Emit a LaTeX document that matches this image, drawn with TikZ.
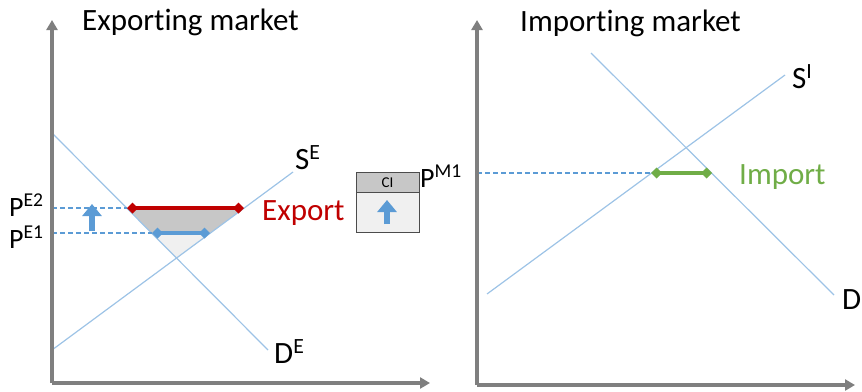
\documentclass[tikz,border=0pt]{standalone}
\usepackage{fontspec}
\setmainfont{Carlito}[Ligatures=NoCommon]
\usetikzlibrary{arrows.meta}

\definecolor{axisgray}{RGB}{127,127,127}
\definecolor{curveblue}{RGB}{157,195,230}
\definecolor{priceblue}{RGB}{91,155,213}
\definecolor{exportred}{RGB}{192,0,0}
\definecolor{importgreen}{RGB}{112,173,71}

\tikzset{
  axis/.style={draw=axisgray,line width=3.5pt,-{Triangle[width=11pt,length=10pt]}},
  curve/.style={draw=curveblue,line width=1.2pt},
  pline/.style={draw=priceblue,line width=1.3pt,dash pattern=on 5pt off 3pt},
  trade/.style={line width=3.6pt,{Diamond[width=11pt,length=11pt]}-{Diamond[width=11pt,length=11pt]}},
  uparrow/.style={draw=priceblue,line width=6pt,-{Triangle[width=19pt,length=12pt]}},
  lbl/.style={font=\fontsize{31}{33}\selectfont,inner sep=0pt,anchor=base west},
  plbl/.style={font=\fontsize{28}{30}\selectfont,inner sep=0pt,anchor=base west}
}

\begin{document}
\begin{tikzpicture}[x=1pt,y=-1pt]
\useasboundingbox (0,0) rectangle (862,391);

% exporting market
\coordinate (eo) at (52,383);
\coordinate (ey) at (52,20);
\coordinate (ex) at (430,383);
\coordinate (ed1) at (52,133);
\coordinate (ed2) at (268,350);
\coordinate (es1) at (52,350);
\coordinate (es2) at (293,172);
\coordinate (ea) at (127,208);
\coordinate (eb) at (244,208);
\coordinate (ec) at (152,233);
\coordinate (ed) at (210,233);
\coordinate (ee) at (177,258);
\coordinate (ep2) at (52,208);
\coordinate (ep1) at (52,233);
\coordinate (ua1) at (92,231);
\coordinate (ua2) at (92,204);

\fill[black!22] (ea) -- (eb) -- (ed) -- (ec) -- cycle;
\fill[black!6] (ec) -- (ed) -- (ee) -- cycle;

\path[curve] (ed1) edge (ed2);
\path[curve] (es1) edge (es2);
\path[pline] (ep2) edge (ea);
\path[pline] (ep1) edge (ec);

\draw[trade,exportred] (ea) -- (eb);
\draw[trade,priceblue] (ec) -- (ed);
\draw[uparrow] (ua1) -- (ua2);

\draw[axis] (eo) -- (ey);
\draw[axis] (eo) -- (ex);

\node[lbl] (etitle) at (82,30) {Exporting market};
\node[lbl] (se) at (295,169) {S\textsuperscript{E}};
\node[lbl] (de) at (274,363) {D\textsuperscript{E}};
\node[lbl,text=exportred] (export) at (262,220) {Export};
\node[plbl] (pe2) at (9,216) {P\textsuperscript{E2}};
\node[plbl] (pe1) at (9,248) {P\textsuperscript{E1}};

% CI box
\node[draw=black!70,fill=black!6,line width=1pt,minimum width=63pt,minimum height=60pt,inner sep=0pt] (cibox) at (387.5,202.5) {};
\node[draw=black!70,fill=black!22,line width=1pt,minimum width=63pt,minimum height=20pt,inner sep=0pt,anchor=north,font=\fontsize{15}{16}\selectfont] (cihead) at (cibox.north) {CI};
\coordinate (ca1) at (387,224);
\coordinate (ca2) at (387,200);
\draw[uparrow] (ca1) -- (ca2);

% importing market
\coordinate (io) at (477,385);
\coordinate (iy) at (477,20);
\coordinate (ix) at (855,385);
\coordinate (id1) at (591,53);
\coordinate (id2) at (834,295);
\coordinate (is1) at (487,294);
\coordinate (is2) at (785,75);
\coordinate (ia) at (651,173);
\coordinate (ib) at (712,173);
\coordinate (ip) at (477,173);

\path[curve] (id1) edge (id2);
\path[curve] (is1) edge (is2);
\path[pline] (ip) edge (ia);
\draw[trade,importgreen] (ia) -- (ib);

\draw[axis] (io) -- (iy);
\draw[axis] (io) -- (ix);

\node[lbl] (ititle) at (520,31) {Importing market};
\node[lbl] (si) at (792,88) {S\textsuperscript{I}};
\node[lbl] (di) at (842,309) {D};
\node[lbl,text=importgreen] (import) at (739,184) {Import};
\node[plbl] (pm1) at (420,187) {P\textsuperscript{M1}};
\end{tikzpicture}
\end{document}
